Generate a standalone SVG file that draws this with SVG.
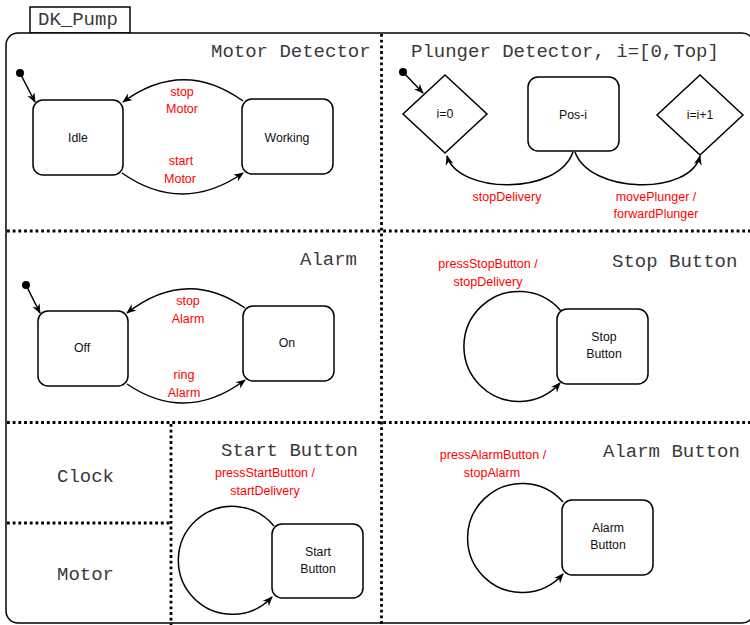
<svg xmlns="http://www.w3.org/2000/svg" width="750" height="625" viewBox="0 0 750 625">
  <style>
    .frame { fill: #ffffff; stroke: #000000; stroke-width: 1.5; }
    .divider { fill: none; stroke: #000000; stroke-width: 2.8; stroke-dasharray: 2.8 2.9; }
    .state { fill: #ffffff; stroke: #000000; stroke-width: 1.5; }
    .edge { fill: none; stroke: #000000; stroke-width: 1.5; marker-end: url(#arrow); }
    .init { fill: #000000; }
    .title { font-family: "Liberation Mono", "Courier New", monospace; font-size: 19px; fill: #3a3a3a; }
    .label { font-family: "Liberation Sans", Arial, Helvetica, sans-serif; font-size: 12.3px; fill: #111111; text-anchor: middle; }
    .event { font-family: "Liberation Sans", Arial, Helvetica, sans-serif; font-size: 12.5px; fill: #ff0000; text-anchor: middle; }
  </style>
  <defs>
    <marker id="arrow" viewBox="0 0 10 10" refX="9" refY="5" markerWidth="10" markerHeight="10" markerUnits="userSpaceOnUse" orient="auto">
      <path d="M0,1 L10,5 L0,9 L3,5 z" fill="#000000"/>
    </marker>
  </defs>

  <rect width="750" height="625" fill="#ffffff"/>

  <!-- outer machine frame with name tab -->
  <g id="dk-pump">
    <rect class="frame" x="30" y="7" width="100" height="26"/>
    <text class="title" x="38" y="25">DK_Pump</text>
    <rect class="frame" x="6" y="33" width="748" height="590" rx="12" ry="12"/>
  </g>

  <!-- region separators -->
  <g id="dividers">
    <line class="divider" x1="381.5" y1="34" x2="381.5" y2="625"/>
    <line class="divider" x1="7" y1="231" x2="750" y2="231"/>
    <line class="divider" x1="7" y1="422.5" x2="750" y2="422.5"/>
    <line class="divider" x1="171" y1="424" x2="171" y2="625"/>
    <line class="divider" x1="7" y1="523" x2="171" y2="523"/>
  </g>

  <!-- region titles -->
  <g id="region-titles">
    <text class="title" x="211" y="57">Motor Detector</text>
    <text class="title" x="411" y="57">Plunger Detector, i=[0,Top]</text>
    <text class="title" x="300" y="265">Alarm</text>
    <text class="title" x="612" y="267">Stop Button</text>
    <text class="title" x="221" y="456">Start Button</text>
    <text class="title" x="603" y="457">Alarm Button</text>
    <text class="title" x="57" y="482">Clock</text>
    <text class="title" x="57" y="580">Motor</text>
  </g>

  <!-- Motor Detector -->
  <g id="motor-initial">
    <circle class="init" cx="20" cy="73" r="4"/>
  </g>
  <g id="motor-idle">
    <rect class="state" x="33" y="100" width="90" height="75" rx="10" ry="10"/>
    <text class="label" x="78" y="142">Idle</text>
  </g>
  <g id="motor-working">
    <rect class="state" x="242" y="99" width="91" height="75" rx="10" ry="10"/>
    <text class="label" x="287" y="142">Working</text>
  </g>

  <!-- Plunger Detector -->
  <g id="plunger-initial">
    <circle class="init" cx="403" cy="72" r="4"/>
  </g>
  <g id="plunger-reset">
    <polygon class="state" points="445,75 487,114 445,153 403,114"/>
    <text class="label" x="445" y="118">i=0</text>
  </g>
  <g id="plunger-pos">
    <rect class="state" x="528" y="77" width="91" height="74" rx="10" ry="10"/>
    <text class="label" x="573" y="119">Pos-i</text>
  </g>
  <g id="plunger-increment">
    <polygon class="state" points="700,75 743,115 700,155 657,115"/>
    <text class="label" x="700" y="119">i=i+1</text>
  </g>

  <!-- Alarm -->
  <g id="alarm-initial">
    <circle class="init" cx="26" cy="285" r="4"/>
  </g>
  <g id="alarm-off">
    <rect class="state" x="38" y="311" width="90" height="75" rx="10" ry="10"/>
    <text class="label" x="82" y="352">Off</text>
  </g>
  <g id="alarm-on">
    <rect class="state" x="243" y="306" width="91" height="75" rx="10" ry="10"/>
    <text class="label" x="287" y="347">On</text>
  </g>

  <!-- Stop Button -->
  <g id="stop-button">
    <rect class="state" x="557" y="309" width="91" height="75" rx="10" ry="10"/>
    <text class="label" x="604" y="341">Stop</text>
    <text class="label" x="604" y="358">Button</text>
  </g>

  <!-- Start Button -->
  <g id="start-button">
    <rect class="state" x="272" y="524" width="91" height="74" rx="10" ry="10"/>
    <text class="label" x="318" y="556">Start</text>
    <text class="label" x="318" y="573">Button</text>
  </g>

  <!-- Alarm Button -->
  <g id="alarm-button">
    <rect class="state" x="562" y="500" width="91" height="75" rx="10" ry="10"/>
    <text class="label" x="608" y="532">Alarm</text>
    <text class="label" x="608" y="549">Button</text>
  </g>

  <!-- transitions -->
  <g id="connectors">
    <path class="edge" d="M20,73 L35,102"/>
    <path class="edge" d="M243,101 Q183,58 123,102"/>
    <path class="edge" d="M122,173 Q182,215 243,173"/>

    <path class="edge" d="M403,72 L423,93"/>
    <path class="edge" d="M573,152 C558,196 458,194 447,156"/>
    <path class="edge" d="M575,152 C590,194 690,196 700,156"/>

    <path class="edge" d="M26,285 L40,313"/>
    <path class="edge" d="M245,308 Q186,267 127,313"/>
    <path class="edge" d="M127,384 Q186,424 245,380"/>

    <path class="edge" d="M561,311 A55,55 0 1,0 560,383"/>
    <path class="edge" d="M274,526 A54,54 0 1,0 272,597"/>
    <path class="edge" d="M563,502 A54.5,54.5 0 1,0 563,574"/>
  </g>

  <!-- transition labels -->
  <g id="event-labels">
    <text class="event" x="182" y="96">stop</text>
    <text class="event" x="182" y="113">Motor</text>
    <text class="event" x="181" y="165">start</text>
    <text class="event" x="180" y="183">Motor</text>

    <text class="event" x="507" y="201">stopDelivery</text>
    <text class="event" x="656" y="201">movePlunger /</text>
    <text class="event" x="656" y="218">forwardPlunger</text>

    <text class="event" x="188" y="305">stop</text>
    <text class="event" x="188" y="323">Alarm</text>
    <text class="event" x="184" y="379">ring</text>
    <text class="event" x="184" y="397">Alarm</text>

    <text class="event" x="488" y="268">pressStopButton /</text>
    <text class="event" x="488" y="286">stopDelivery</text>

    <text class="event" x="265" y="477">pressStartButton /</text>
    <text class="event" x="265" y="495">startDelivery</text>

    <text class="event" x="493" y="459">pressAlarmButton /</text>
    <text class="event" x="492" y="477">stopAlarm</text>
  </g>
</svg>
